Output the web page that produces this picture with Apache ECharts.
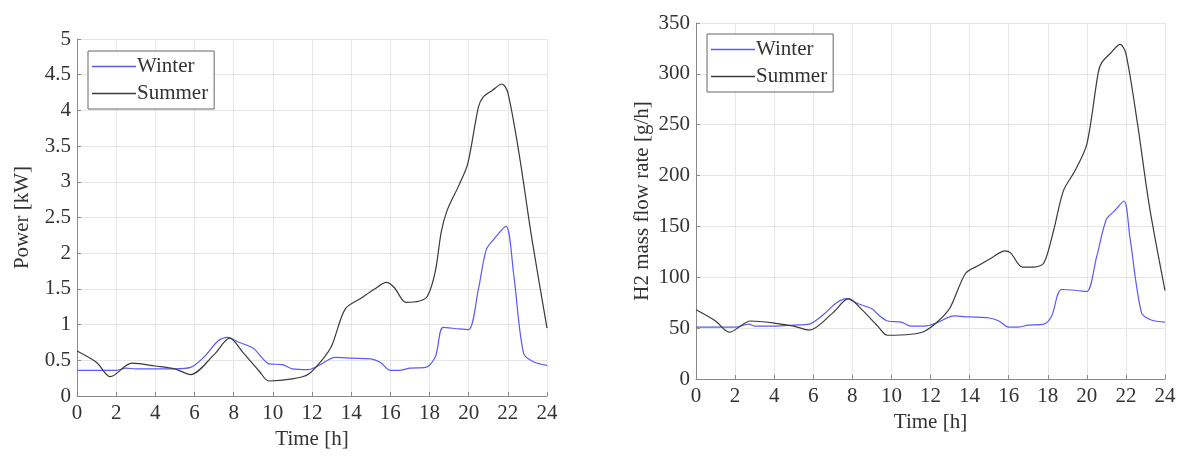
<!DOCTYPE html>
<html>
<head>
<meta charset="utf-8">
<script src="https://cdn.jsdelivr.net/npm/echarts@6/dist/echarts.min.js"></script>
<style>html,body{margin:0;padding:0;background:#fff}#c{width:1184px;height:457px}</style>
</head>
<body>
<div id="c"></div>
<script>
// ---- data ----
const xTicks = [0,2,4,6,8,10,12,14,16,18,20,22,24];

const tWinterP = [0,2,2.5,3,4,5,5.8,6.5,7.2,7.7,8.2,9,9.4,9.8,10.5,11,11.8,12.3,13.2,14,15,15.5,16,16.5,17,17.8,18.3,18.7,19.5,20,20.5,20.9,21.3,21.9,22.3,22.8,23.3,24];
const winterPower = [0.36,0.36,0.39,0.38,0.38,0.38,0.40,0.55,0.77,0.82,0.76,0.67,0.55,0.45,0.44,0.38,0.37,0.42,0.54,0.53,0.52,0.47,0.36,0.36,0.39,0.40,0.55,0.96,0.94,0.93,1.5,2.05,2.2,2.38,1.7,0.6,0.48,0.43];

const tSummerP = [0,1,1.7,2.8,4,5,5.8,7,7.8,8.5,9.3,9.8,11,11.8,12.5,13,13.7,14.5,15.2,15.8,16.2,16.8,17.5,17.9,18.3,18.6,18.9,19.5,19.95,20.5,20.75,21.2,21.7,22,22.6,23.2,24];
const summerPower = [0.63,0.47,0.27,0.46,0.42,0.38,0.30,0.58,0.81,0.60,0.35,0.21,0.24,0.30,0.50,0.70,1.22,1.37,1.50,1.59,1.52,1.31,1.33,1.40,1.75,2.3,2.6,2.95,3.25,4.05,4.19,4.28,4.37,4.25,3.35,2.25,0.95];

const tWinterH = [0,2,2.7,3,4,5,5.8,6.5,7.2,7.7,8.3,9,9.4,9.8,10.5,11,11.7,12.3,13.2,14,15,15.5,16,16.5,17,17.8,18.2,18.7,19.5,20,20.5,21,21.4,21.9,22.2,22.8,23.3,24];
const winterH2 = [51,51,54,52,52,53,54,63,75,79,74,69,62,57,56,52,52,55,62,61,60,57,51,51,53,54,62,88,87,86,120,157,165,175,140,65,58,56];

const tSummerH = [0,1,1.7,2.8,4,5,5.8,7,7.8,8.5,9.3,9.8,11,11.7,12.4,13,13.8,14.5,15.2,15.8,16.1,16.7,17.3,17.8,18.3,18.8,19.4,20,20.58,20.76,21.2,21.7,22,22.6,23.2,24];
const summerH2 = [68,57,46,57,55,52,48,65,79,68,52,43,44,47,57,70,104,112,120,126,124,110,110,114,146,185,205,231,301,311,320,329,320,250,170,87];

const seriesNames = ['Winter','Summer'];
const yLabelLeft = 'Power [kW]';
const yLabelRight = 'H2 mass flow rate [g/h]';
const xLabel = 'Time [h]';

// ---- chart ----
const pairs = (t, v) => t.map((x, i) => [x, v[i]]);
const FONT = 'Liberation Serif';
const BLUE = '#5a5af7', BLACK = '#3a3a3a';
const txt = {fontFamily: FONT, fontSize: 21, color: '#333'};

function xAx(gi) {
  return {
    gridIndex: gi, type: 'value', min: 0, max: 24, interval: 2,
    name: xLabel, nameLocation: 'middle', nameGap: 32,
    nameTextStyle: Object.assign({}, txt),
    axisLabel: Object.assign({margin: 7}, txt),
    axisLine: {show: true, lineStyle: {color: '#8a8a8a', width: 1}},
    axisTick: {show: true, inside: true, length: 4, lineStyle: {color: '#8a8a8a'}},
    splitLine: {show: true, lineStyle: {color: '#e6e6e6', width: 1}}
  };
}
function yAx(gi, max, interval, name, gap) {
  return {
    gridIndex: gi, type: 'value', min: 0, max: max, interval: interval,
    name: name, nameLocation: 'middle', nameGap: gap, nameRotate: 90,
    nameTextStyle: Object.assign({}, txt),
    axisLabel: Object.assign({margin: 6}, txt),
    axisLine: {show: true, lineStyle: {color: '#8a8a8a', width: 1}},
    axisTick: {show: true, inside: true, length: 4, lineStyle: {color: '#8a8a8a'}},
    splitLine: {show: true, lineStyle: {color: '#e6e6e6', width: 1}}
  };
}
function line(name, data, color, xi, yi) {
  return {
    name: name, type: 'line', xAxisIndex: xi, yAxisIndex: yi,
    data: data, showSymbol: false, symbol: 'none',
    smooth: 0.3,
    lineStyle: {color: color, width: 1.2}, itemStyle: {color: color},
    animation: false
  };
}
function legend(left, top) {
  return {
    left: left, top: top, orient: 'vertical',
    data: seriesNames.map(n => ({name: n, icon: 'rect'})),
    itemWidth: 44, itemHeight: 1.3, itemGap: 6,
    textStyle: Object.assign({}, txt, {padding: [0, 0, 0, -4]}),
    borderColor: '#666', borderWidth: 1, backgroundColor: '#fff',
    padding: [5, 6, 5, 4], selectedMode: false
  };
}

const chart = echarts.init(document.getElementById('c'), null, {renderer: 'canvas'});
chart.setOption({
  animation: false,
  backgroundColor: '#fff',
  grid: [
    {left: 77, top: 39, width: 470, height: 357},
    {left: 696, top: 23, width: 469, height: 356}
  ],
  xAxis: [xAx(0), xAx(1)],
  yAxis: [yAx(0, 5, 0.5, yLabelLeft, 44), yAx(1, 350, 50, yLabelRight, 43)],
  legend: [legend(88, 51), legend(707, 34)],
  series: [
    line(seriesNames[0], pairs(tWinterP, winterPower), BLUE, 0, 0),
    line(seriesNames[1], pairs(tSummerP, summerPower), BLACK, 0, 0),
    line(seriesNames[0], pairs(tWinterH, winterH2), BLUE, 1, 1),
    line(seriesNames[1], pairs(tSummerH, summerH2), BLACK, 1, 1)
  ]
});
</script>
</body>
</html>
